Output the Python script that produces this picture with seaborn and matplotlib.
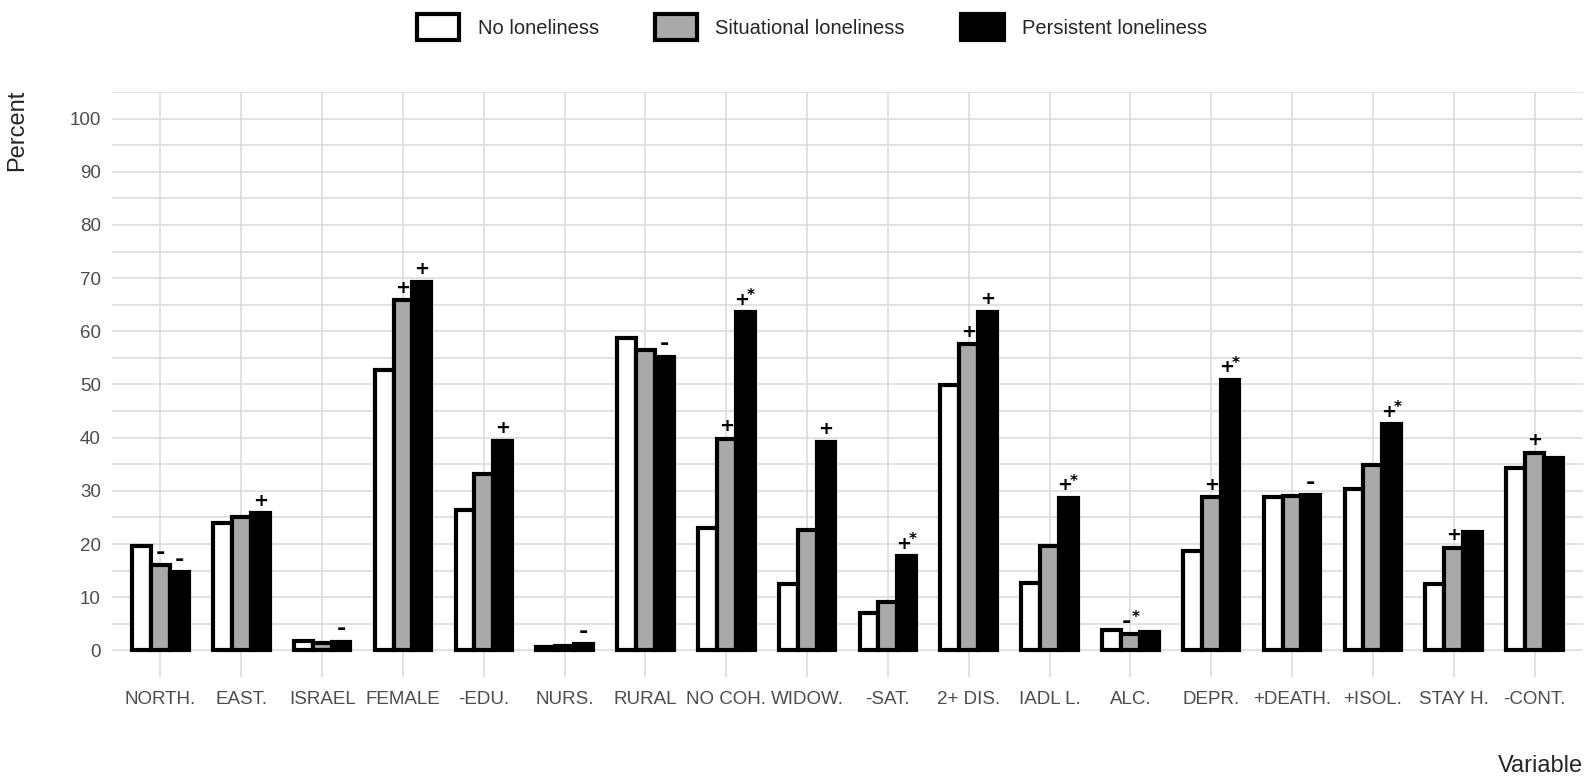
import matplotlib
matplotlib.use("Agg")
import matplotlib.pyplot as plt
from matplotlib import font_manager
from matplotlib.patches import Patch
import seaborn as sns
import pandas as pd

# ------- DATA -------

categories = ["NORTH.", "EAST.", "ISRAEL", "FEMALE", "-EDU.", "NURS.", "RURAL", "NO COH.", "WIDOW.",
              "-SAT.", "2+ DIS.", "IADL L.", "ALC.", "DEPR.", "+DEATH.", "+ISOL.", "STAY H.", "-CONT."]
groups = ["No loneliness", "Situational loneliness", "Persistent loneliness"]

no_lon = [19.6, 23.9, 1.8, 52.7, 26.4, 0.6, 58.8, 23.1, 12.5, 7.1, 49.9, 12.6, 3.9, 18.7, 28.9, 30.3, 12.4, 34.3]
situ = [16.0, 25.1, 1.3, 65.8, 33.2, 0.9, 56.4, 39.8, 22.7, 9.1, 57.6, 19.6, 3.0, 28.8, 29.0, 34.8, 19.3, 37.2]
pers = [14.7, 25.8, 1.6, 69.3, 39.4, 1.2, 55.2, 63.6, 39.2, 17.7, 63.7, 28.7, 3.4, 50.9, 29.2, 42.5, 22.2, 36.2]

no_marks = [""] * 18
situ_marks = ["-", "", "", "+", "", "", "", "+", "", "", "+", "", "-*", "+", "", "", "+", "+"]
pers_marks = ["-", "+", "-", "+", "+", "-", "-", "+*", "+", "+*", "+", "+*", "", "+*", "-", "+*", "", ""]

colors = ["#FFFFFF", "#A9A9A9", "#000000"]

# ------- FONTS -------

installed = {f.name for f in font_manager.fontManager.ttflist}
base_font = "Liberation Sans Narrow" if "Liberation Sans Narrow" in installed else "Liberation Sans"

sns.set_style("white")
plt.rcParams["font.family"] = [base_font, "DejaVu Sans"]

# ------- BUILD TABLE -------

df = pd.DataFrame({
    "Variable": categories * 3,
    "Group": [groups[0]] * 18 + [groups[1]] * 18 + [groups[2]] * 18,
    "Percent": no_lon + situ + pers,
})

# ------- PLOT -------

fig = plt.figure(figsize=(15.87, 7.77), dpi=100)
ax = fig.add_axes([112 / 1587, 1 - 677 / 777, (1583 - 112) / 1587, (677 - 92) / 777])

sns.barplot(data=df, x="Variable", y="Percent", hue="Group", hue_order=groups, order=categories,
            palette=colors, saturation=1, width=0.7, edgecolor="black", linewidth=3,
            legend=False, ax=ax)

ax.set_xlim(-0.6, 17.6)
ax.set_ylim(-5, 105)
ax.set_yticks(range(0, 101, 10))
ax.set_yticks(range(5, 106, 10), minor=True)
ax.set_axisbelow(True)
ax.grid(True, which="major", axis="both", color="#dadada", linewidth=1.1)
ax.grid(True, which="minor", axis="y", color="#dadada", linewidth=1.1)
for s in ax.spines.values():
    s.set_visible(False)
ax.tick_params(axis="both", which="both", length=0, labelsize=13.5, labelcolor="#4d4d4d")
ax.tick_params(axis="x", pad=10)
ax.tick_params(axis="y", pad=8)
ax.set_xlabel("")
ax.set_ylabel("")

# significance marks above bars
for gi, marks in enumerate([no_marks, situ_marks, pers_marks]):
    bars = ax.containers[gi]
    for ci, m in enumerate(marks):
        if not m:
            continue
        bar = bars[ci]
        xc = bar.get_x() + bar.get_width() / 2
        top = bar.get_height()
        sign = m[0]
        dx = -2.5 if "*" in m else 0
        size = 16 if sign == "-" else 13
        ax.annotate(sign, (xc, top), xytext=(dx, 9), textcoords="offset points",
                    ha="center", va="center", fontsize=size, fontweight="bold",
                    family="DejaVu Sans", color="black")
        if "*" in m:
            ax.annotate("*", (xc, top), xytext=(4, 12), textcoords="offset points",
                        ha="center", va="center", fontsize=11, fontweight="bold",
                        family="DejaVu Sans", color="black")

# axis titles
fig.text(6 / 1587, 1 - 90 / 777, "Percent", rotation=90, ha="left", va="top", fontsize=17)
fig.text(1583 / 1587, 1 - 772 / 777, "Variable", ha="right", va="baseline", fontsize=17)

# legend
handles = [Patch(facecolor=c, edgecolor="black", linewidth=3) for c in colors]
fig.legend(handles, groups, loc="upper center", bbox_to_anchor=(812 / 1587, 1.0), ncol=3,
           frameon=False, fontsize=14.5, handlelength=2.1, handleheight=1.6,
           handletextpad=0.9, columnspacing=2.8, borderaxespad=0.3)

plt.savefig("out.png", dpi=100)
plt.close()
